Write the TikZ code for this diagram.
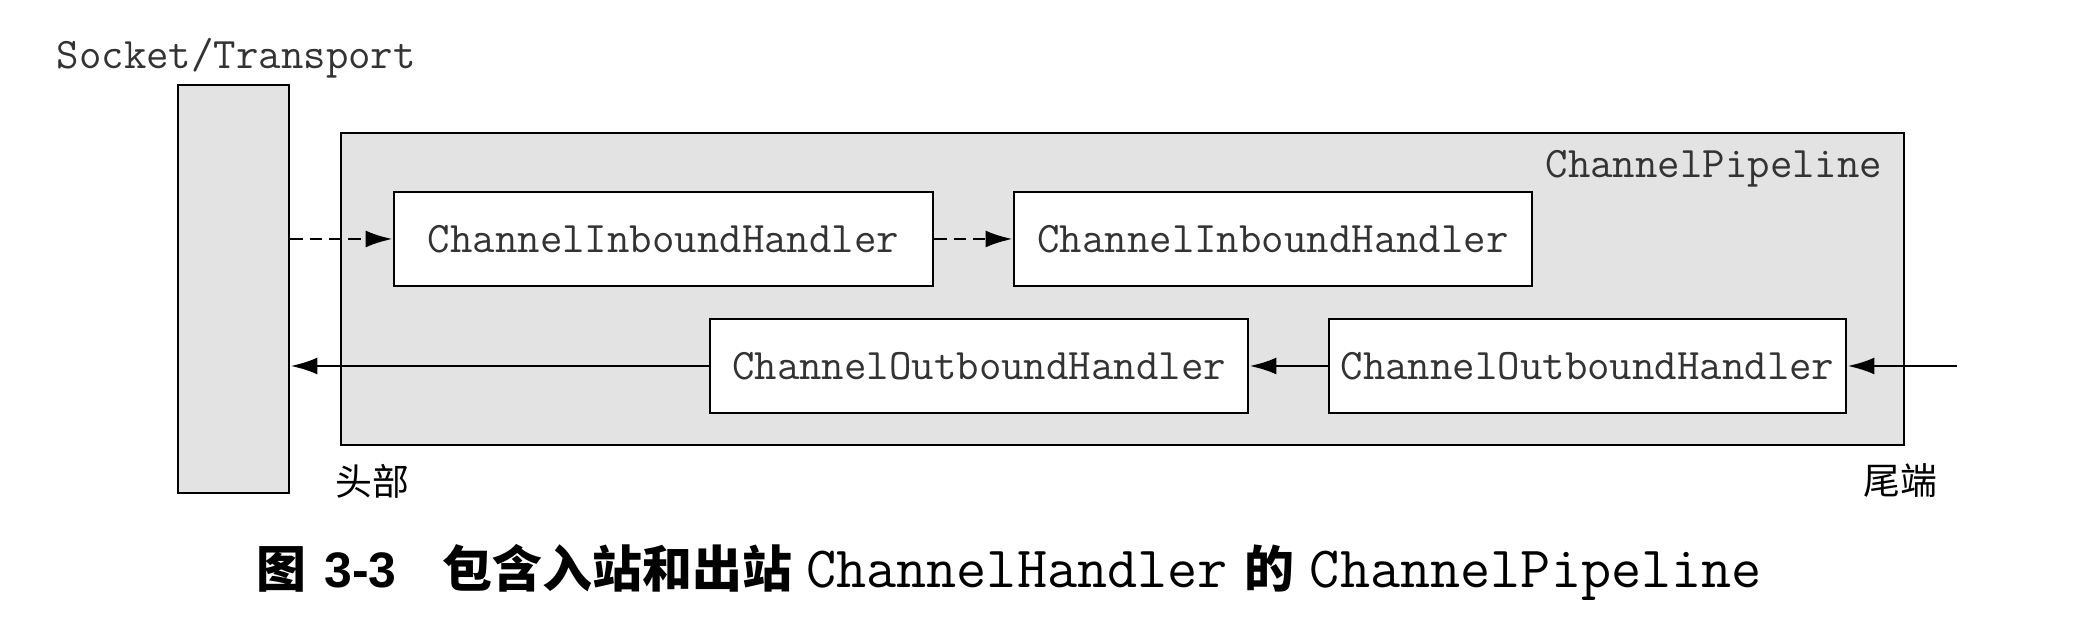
\documentclass[tikz,border=0pt]{standalone}
\usepackage{fontspec}
\setsansfont{Liberation Sans}
\newfontfamily\cjk{Noto Sans CJK SC}
\usetikzlibrary{arrows.meta}

\tikzset{
  pane/.style={draw, line width=0.8pt, fill=black!11, inner sep=0pt},
  handler/.style={draw, line width=0.8pt, fill=white, minimum height=0.94cm,
    inner sep=0pt, text=black!80, font=\ttfamily\fontsize{12.4}{14}\selectfont},
  flow/.style={line width=0.8pt, -{Latex[length=0.27cm, width=0.17cm]}},
  inflow/.style={flow, dash pattern=on 3.5pt off 2pt},
  tag/.style={inner sep=0pt, text=black!80, font=\ttfamily\fontsize{12.4}{14}\selectfont},
  endtag/.style={inner sep=0pt, font=\cjk\fontsize{10.5}{12}\selectfont}
}

\begin{document}
\begin{tikzpicture}
\useasboundingbox (0,0) rectangle (20.78,-6.42);
% socket and pipeline
\node[pane, minimum width=1.11cm, minimum height=4.08cm] (sock) at (2.335,-2.89) {};
\node[pane, minimum width=15.63cm, minimum height=3.12cm] (pipe) at (11.225,-2.89) {};
\node[tag, anchor=west] (socktag) at (0.56,-0.58) {Socket/Transport};
\node[tag, anchor=east] (pipetag) at (18.83,-1.69) {ChannelPipeline};

% handlers
\node[handler, minimum width=5.39cm] (in1) at (6.635,-2.39) {ChannelInboundHandler};
\node[handler, minimum width=5.18cm] (in2) at (12.73,-2.39) {ChannelInboundHandler};
\node[handler, minimum width=5.38cm] (out1) at (9.79,-3.66) {ChannelOutboundHandler};
\node[handler, minimum width=5.17cm] (out2) at (15.875,-3.66) {ChannelOutboundHandler};

% connectors
\coordinate (tail) at (19.57,-3.66);
\draw[inflow] (sock.east |- in1.west) -- (in1.west);
\draw[inflow] (in1.east) -- (in2.west);
\draw[flow] (tail) -- (out2.east);
\draw[flow] (out2.west) -- (out1.east);
\draw[flow] (out1.west) -- (sock.east |- out1.west);

% head and tail
\node[endtag] (head) at (3.72,-4.81) {头部};
\node[endtag] (end) at (19.0,-4.81) {尾端};

% caption
\node[inner sep=0pt, anchor=west, font=\fontsize{14.2}{17}\selectfont] (caption) at (2.56,-5.72)
  {{\cjk\bfseries 图}\hspace{0.18cm}{\sffamily\bfseries 3-3}\hspace{0.46cm}{\cjk\bfseries 包含入站和出站}\hspace{0.14cm}{\ttfamily\fontsize{16.65}{17}\selectfont ChannelHandler}\hspace{0.16cm}{\cjk\bfseries 的}\hspace{0.16cm}{\ttfamily\fontsize{16.65}{17}\selectfont ChannelPipeline}};
\end{tikzpicture}
\end{document}
